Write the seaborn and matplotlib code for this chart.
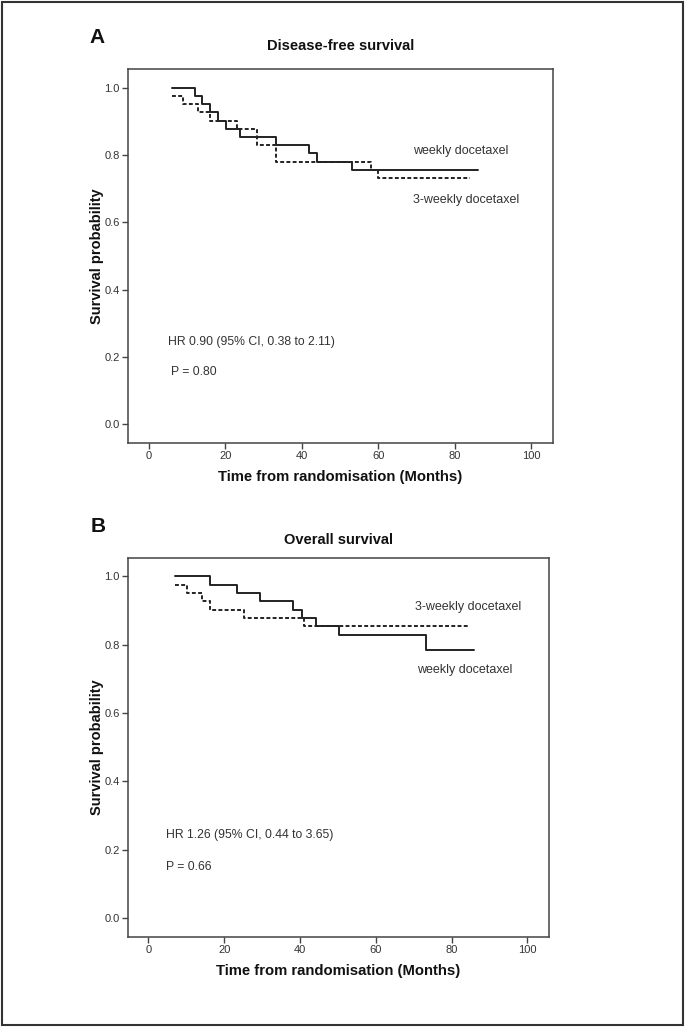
import matplotlib
matplotlib.use("Agg")
import numpy as np
import pandas as pd
import seaborn as sns
from matplotlib import pyplot as plt
from matplotlib.patches import Rectangle

# Disease-free survival (panel A), Kaplan-Meier steps
dfs_weekly_t = [6.2, 12.0, 14.0, 16.1, 18.2, 20.1, 24.0, 33.2, 42.0, 44.1, 53.1, 86.0]
dfs_weekly_s = [1.0, 0.976, 0.951, 0.927, 0.902, 0.878, 0.854, 0.829, 0.805, 0.780, 0.756, 0.756]
dfs_3weekly_t = [6.2, 9.0, 12.9, 16.0, 23.1, 28.2, 33.2, 58.1, 59.9, 83.9]
dfs_3weekly_s = [0.976, 0.951, 0.927, 0.902, 0.878, 0.829, 0.780, 0.756, 0.732, 0.732]

# Overall survival (panel B)
os_weekly_t = [7.1, 16.3, 23.3, 29.3, 38.2, 40.4, 44.2, 50.3, 73.2, 86.0]
os_weekly_s = [1.0, 0.976, 0.951, 0.927, 0.902, 0.878, 0.854, 0.829, 0.785, 0.785]
os_3weekly_t = [7.1, 10.2, 14.1, 16.3, 25.3, 41.1, 84.3]
os_3weekly_s = [0.976, 0.951, 0.927, 0.902, 0.878, 0.854, 0.854]

x_ticks = [0, 20, 40, 60, 80, 100]
y_ticks = [0.0, 0.2, 0.4, 0.6, 0.8, 1.0]

sns.set_theme(style="white")
plt.rcParams["font.family"] = ["Liberation Sans", "DejaVu Sans"]

INK = "#222222"
TEXT = "#333333"


def km_frame(times, surv, arm):
    return pd.DataFrame({"time": times, "surv": surv, "arm": arm})


def draw_panel(ax, weekly, three_weekly, letter, title, title_pad, hr_text, p_text, label_pos):
    data = pd.concat([km_frame(*weekly, "weekly docetaxel"), km_frame(*three_weekly, "3-weekly docetaxel")])
    sns.lineplot(
        data=data[data["arm"] == "weekly docetaxel"], x="time", y="surv", ax=ax,
        drawstyle="steps-post", estimator=None, color=INK, linewidth=1.4, legend=False,
    )
    sns.lineplot(
        data=data[data["arm"] == "3-weekly docetaxel"], x="time", y="surv", ax=ax,
        drawstyle="steps-post", estimator=None, color=INK, linewidth=1.4,
        linestyle=(0, (2.0, 1.2)), legend=False,
    )

    ax.set_xlim(-5.4, 105.7)
    ax.set_ylim(-0.056, 1.055)
    ax.set_xticks(x_ticks)
    ax.set_xticklabels([str(t) for t in x_ticks])
    ax.set_yticks(y_ticks)
    ax.set_yticklabels([f"{t:.1f}" for t in y_ticks])
    ax.tick_params(axis="both", direction="out", length=4, width=1, color="#444444",
                   labelsize=8, labelcolor=TEXT, bottom=True, left=True, pad=2)
    for sp in ax.spines.values():
        sp.set_visible(True)
        sp.set_color("#444444")
        sp.set_linewidth(1.1)

    ax.set_xlabel("Time from randomisation (Months)", fontsize=10.7, fontweight="bold", color="#111111", labelpad=6)
    ax.set_ylabel("Survival probability", fontsize=10.5, fontweight="bold", color="#111111", labelpad=0)
    ax.set_title(title, fontsize=10.5, fontweight="bold", color="#111111", pad=title_pad)
    ax.text(-0.09, 1.083, letter, transform=ax.transAxes, fontsize=15, fontweight="bold",
            color="#111111", ha="left", va="center")

    for (x, y, txt) in label_pos:
        ax.text(x, y, txt, fontsize=9, color=TEXT, ha="left", va="center")
    ax.text(hr_text[0], hr_text[1], hr_text[2], fontsize=8.8, color=TEXT, ha="left", va="center")
    ax.text(p_text[0], p_text[1], p_text[2], fontsize=8.8, color=TEXT, ha="left", va="center")


fig = plt.figure(figsize=(6.85, 10.27), dpi=100)
ax_a = fig.add_axes([0.1869, 0.5686, 0.6204, 0.3642])
ax_b = fig.add_axes([0.1869, 0.0876, 0.6146, 0.3694])

draw_panel(
    ax_a, (dfs_weekly_t, dfs_weekly_s), (dfs_3weekly_t, dfs_3weekly_s),
    "A", "Disease-free survival", 14,
    (5.0, 0.244, "HR 0.90 (95% CI, 0.38 to 2.11)"), (5.9, 0.155, "P = 0.80"),
    [(69.1, 0.811, "weekly docetaxel"), (69.0, 0.665, "3-weekly docetaxel")],
)
draw_panel(
    ax_b, (os_weekly_t, os_weekly_s), (os_3weekly_t, os_3weekly_s),
    "B", "Overall survival", 10,
    (4.5, 0.243, "HR 1.26 (95% CI, 0.44 to 3.65)"), (4.7, 0.149, "P = 0.66"),
    [(70.3, 0.911, "3-weekly docetaxel"), (70.9, 0.727, "weekly docetaxel")],
)

fig.patches.append(Rectangle((0.003, 0.002), 0.994, 0.996, transform=fig.transFigure,
                             fill=False, edgecolor="#333333", linewidth=1.5))

fig.savefig("out.png", dpi=100)
